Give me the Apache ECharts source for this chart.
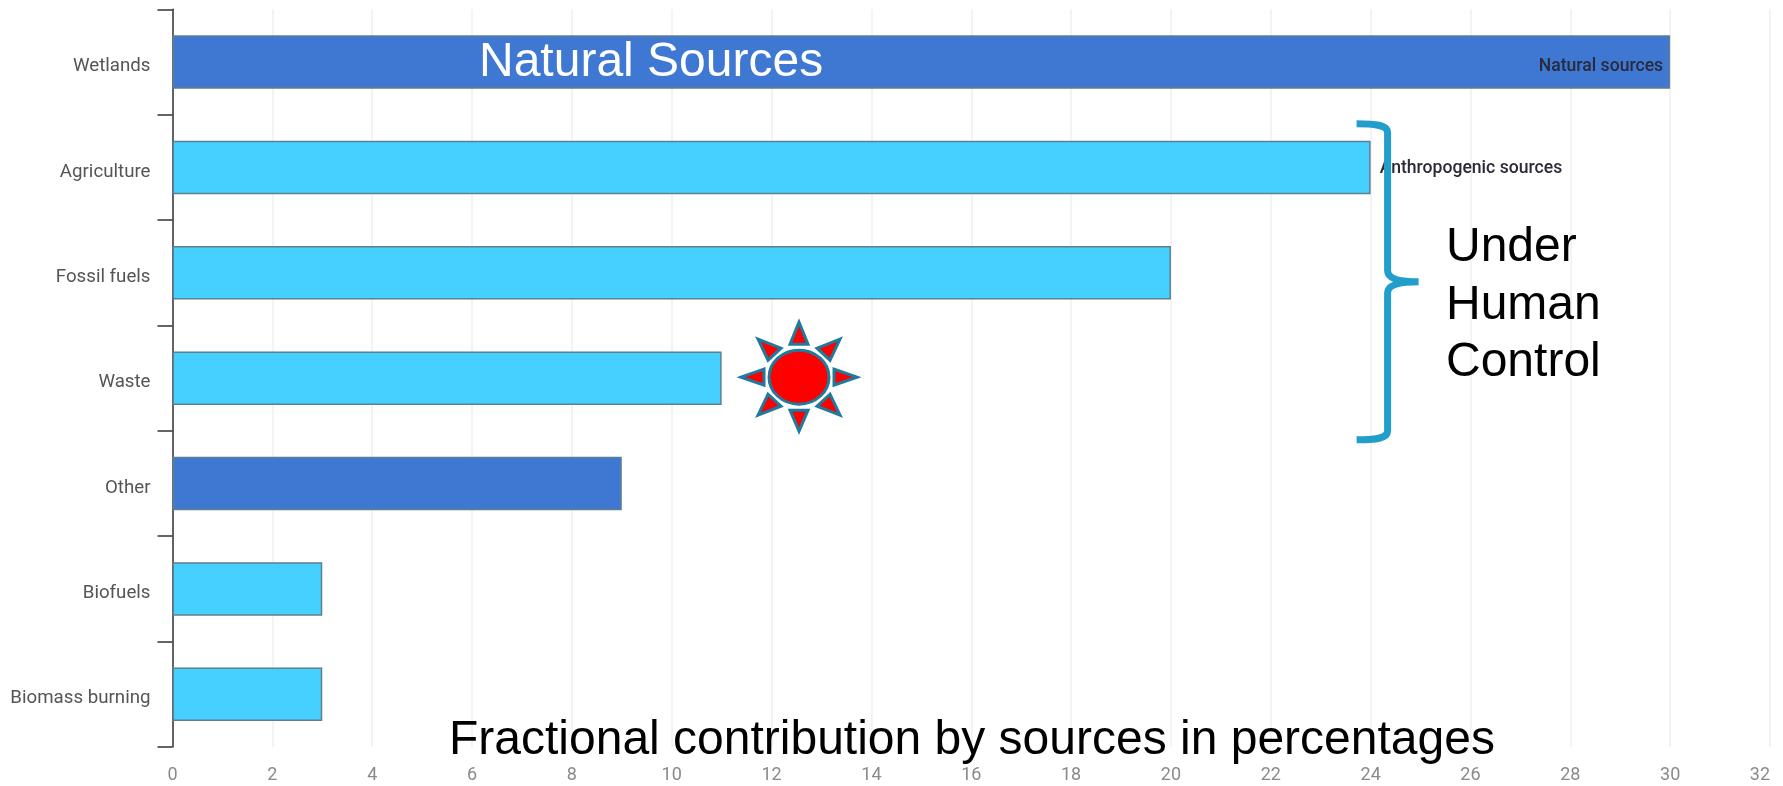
<!DOCTYPE html>
<html>
<head>
<meta charset="utf-8">
<style>html,body{margin:0;padding:0;background:#fff}#c{width:1783px;height:786px}</style>
<script src="https://cdn.jsdelivr.net/npm/echarts@6/dist/echarts.min.js"></script>
</head>
<body>
<div id="c"></div>
<script>
const categories = ['Wetlands','Agriculture','Fossil fuels','Waste','Other','Biofuels','Biomass burning'];
const values = [30,24,20,11,9,3,3];
const sourceTypes = ['natural','anthropogenic','anthropogenic','anthropogenic','natural','anthropogenic','anthropogenic'];
const barLabels = ['Natural sources','Anthropogenic sources','','','','',''];
const sunAnchor = [12.55,'Waste'];
const braceAnchor = [24.34,'Fossil fuels'];

const typeColors = {natural:'#3e78d3', anthropogenic:'#45d0ff'};
const chart = echarts.init(document.getElementById('c'), null, {renderer:'canvas'});

const sunStyle = {fill:'#ff0000', stroke:'#1f7a9c', lineWidth:3};
const rays = [
  [[0,-55],[-9,-33],[9,-33]],
  [[0,54],[-9,33],[9,33]],
  [[-58,0],[-35,-8],[-35,8]],
  [[58,0],[35,-8],[35,8]],
  [[-41,-38],[-18,-29],[-31,-17]],
  [[41,-38],[18,-29],[31,-17]],
  [[-41,38],[-18,29],[-31,17]],
  [[41,38],[18,29],[31,17]]
];
function renderSun(params, api){
  const c = api.coord([api.value(0), api.value(1)]);
  const children = rays.map(r => ({
    type:'polygon', shape:{points:r.map(p => [c[0]+p[0], c[1]+p[1]-1])},
    style:sunStyle
  }));
  children.push({type:'ellipse', shape:{cx:c[0], cy:c[1]-1, rx:30, ry:27}, style:sunStyle});
  return {type:'group', children};
}
function renderBrace(params, api){
  const c = api.coord([api.value(0), api.value(1)]);
  const x = c[0], m = c[1] + 9;
  const top = m - 158, bot = m + 158, left = x - 31, tip = x + 31;
  const d = `M${left} ${top} C${x-12} ${top} ${x} ${top+1} ${x} ${top+9} L${x} ${m-11} Q${x} ${m} ${tip} ${m} `
          + `Q${x} ${m} ${x} ${m+11} L${x} ${bot-9} C${x} ${bot-1} ${x-12} ${bot} ${left} ${bot}`;
  return {
    type:'path',
    shape:{pathData:d, x:left, y:top, width:tip-left, height:bot-top, layout:'cover'},
    style:{fill:'none', stroke:'#219ecb', lineWidth:7}
  };
}

const bigText = {fontFamily:'"Liberation Sans"', fontSize:48, fill:'#000'};

chart.setOption({
  animation:false,
  backgroundColor:'#fff',
  grid:{left:172.5, right:13, top:9.3, bottom:39, containLabel:false},
  xAxis:{
    type:'value', min:0, max:32, interval:2, position:'bottom',
    axisLine:{show:false}, axisTick:{show:false},
    axisLabel:{color:'#8a8a8a', fontFamily:'Roboto', fontSize:18, margin:19, alignMaxLabel:'right'},
    splitLine:{show:true, lineStyle:{color:'#efefef', width:1.5}}
  },
  yAxis:{
    type:'category', data:categories, inverse:true,
    axisLine:{show:true, lineStyle:{color:'#333', width:1.5}},
    axisTick:{show:true, length:15, lineStyle:{color:'#333', width:1.5}, alignWithLabel:false},
    axisLabel:{color:'#555', fontFamily:'Roboto', fontSize:18.7, margin:22, verticalAlign:'top', lineHeight:9}
  },
  series:[
    {
      type:'bar', barWidth:53.5, z:2,
      data:values.map((v,i)=>({
        value:v,
        itemStyle:{color:typeColors[sourceTypes[i]], borderColor:'#5f7f8e', borderWidth:1.5},
        label:{
          show:!!barLabels[i],
          formatter:barLabels[i],
          position:i===0?'insideRight':'right',
          distance:i===0?7:9,
          offset:i===0?[0,5]:[0,1],
          color:'#2a2a3a', fontFamily:'Roboto', fontSize:17.6, fontWeight:500
        }
      }))
    },
    {type:'custom', renderItem:renderSun, z:5, clip:false, data:[sunAnchor], encode:{x:0,y:1}, silent:true},
    {type:'custom', renderItem:renderBrace, z:6, clip:false, data:[braceAnchor], encode:{x:0,y:1}, silent:true}
  ],
  graphic:[
    {type:'text', z:10, left:479, top:39, style:Object.assign({},bigText,{text:'Natural Sources', fill:'#fff'})},
    {type:'text', z:10, left:449, top:717, style:Object.assign({},bigText,{text:'Fractional contribution by sources in percentages'})},
    {type:'text', z:10, left:1446, top:224, style:Object.assign({},bigText,{text:'Under'})},
    {type:'text', z:10, left:1446, top:282, style:Object.assign({},bigText,{text:'Human'})},
    {type:'text', z:10, left:1446, top:339, style:Object.assign({},bigText,{text:'Control'})}
  ]
});
</script>
</body>
</html>
